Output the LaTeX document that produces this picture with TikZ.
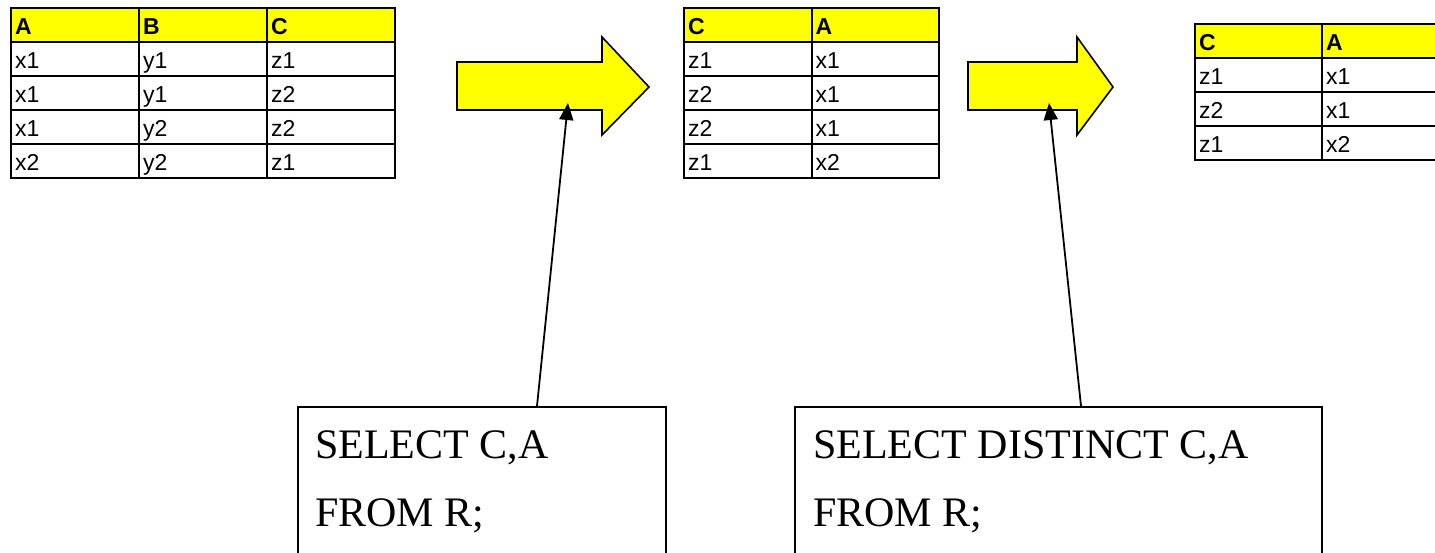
\documentclass[tikz,border=0pt]{standalone}
\usepackage{fontspec}
\setmainfont{Liberation Serif}
\newfontfamily\tabfont{Liberation Sans}
\usetikzlibrary{arrows.meta,calc}
\definecolor{hdryellow}{RGB}{255,255,0}

\begin{document}
\begin{tikzpicture}[x=1pt,y=-1pt,
  cell/.style={draw=black, line width=2pt, fill=white, anchor=north west,
    minimum height=34pt, text height=18pt, text depth=0pt, inner xsep=4pt,
    align=left, font=\tabfont\fontsize{23}{27}\selectfont},
  hcell/.style={cell, fill=hdryellow,
    font=\tabfont\bfseries\fontsize{23}{27}\selectfont},
  wA/.style={minimum width=128pt, text width=120pt},
  wB/.style={minimum width=127.5pt, text width=119.5pt},
  wC/.style={minimum width=127pt, text width=119pt},
  bigarrow/.style={draw=black, line width=1.6pt, fill=hdryellow, line join=miter},
  querybox/.style={draw=black, line width=1.8pt, fill=white, anchor=north west,
    minimum height=200pt, inner sep=0pt},
  sqltext/.style={anchor=base west, inner sep=0pt,
    font=\fontsize{42}{50}\selectfont},
  conn/.style={draw=black, line width=1.8pt,
    -{Triangle[length=17pt,width=14pt]}}
]
\clip (0,0) rectangle (1435,552);
\fill[white] (0,0) rectangle (1435,552);

% relation R(A,B,C)
\node[hcell, wA] (RhA) at (10,7) {A};
\node[hcell, wA] (RhB) at (138,7) {B};
\node[hcell, wA] (RhC) at (266,7) {C};
\foreach \r/\a/\b/\c in {1/x1/y1/z1, 2/x1/y1/z2, 3/x1/y2/z2, 4/x2/y2/z1} {
  \node[cell, wA] (Ra\r) at (10,{7+34*\r}) {\a};
  \node[cell, wA] (Rb\r) at (138,{7+34*\r}) {\b};
  \node[cell, wA] (Rc\r) at (266,{7+34*\r}) {\c};
}

% projection with duplicates
\node[hcell, wB] (PhC) at (683,7) {C};
\node[hcell, wB] (PhA) at (810.5,7) {A};
\foreach \r/\c/\a in {1/z1/x1, 2/z2/x1, 3/z2/x1, 4/z1/x2} {
  \node[cell, wB] (Pc\r) at (683,{7+34*\r}) {\c};
  \node[cell, wB] (Pa\r) at (810.5,{7+34*\r}) {\a};
}

% projection without duplicates
\node[hcell, wC] (DhC) at (1194,23) {C};
\node[hcell, wC] (DhA) at (1321,23) {A};
\foreach \r/\c/\a in {1/z1/x1, 2/z2/x1, 3/z1/x2} {
  \node[cell, wC] (Dc\r) at (1194,{23+34*\r}) {\c};
  \node[cell, wC] (Da\r) at (1321,{23+34*\r}) {\a};
}

% block arrows between the tables
\draw[bigarrow] (457,62) -- (602,62) -- (602,37) -- (649,87) -- (602,135)
  -- (602,110) -- (457,110) -- cycle;
\coordinate (arrowA) at (568,103);
\draw[bigarrow] (968,62) -- (1077,62) -- (1077,37) -- (1113,87) -- (1077,135)
  -- (1077,110) -- (968,110) -- cycle;
\coordinate (arrowB) at (1049,103);

% queries
\node[querybox, minimum width=368pt] (q1) at (297,406) {};
\node[sqltext] (q1a) at (315,458) {SELECT C,A};
\node[sqltext] (q1b) at (315,526) {FROM R;};

\node[querybox, minimum width=527pt] (q2) at (794,406) {};
\node[sqltext] (q2a) at (813,458) {SELECT DISTINCT C,A};
\node[sqltext] (q2b) at (813,526) {FROM R;};

% connectors from the queries to the arrows
\draw[conn] ($(q1.north west)+(240,0)$) -- (arrowA);
\draw[conn] ($(q2.north west)+(287,0)$) -- (arrowB);
\end{tikzpicture}
\end{document}
